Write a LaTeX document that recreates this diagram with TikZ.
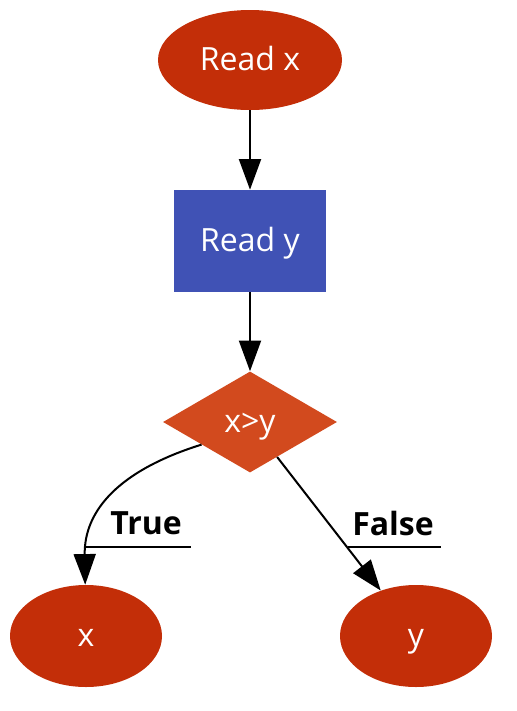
\documentclass[tikz,border=0pt]{standalone}
\usepackage{fontspec}
\setmainfont{Open Sans}
\usepackage{tikz}
\usetikzlibrary{shapes.geometric,arrows.meta,positioning}
\definecolor{rouge}{RGB}{195,46,8}
\definecolor{bleu}{RGB}{64,82,181}
\definecolor{brique}{RGB}{210,74,30}
\begin{document}
\begin{tikzpicture}[x=0.75pt,y=-0.75pt,
  etat/.style={ellipse,fill=rouge,text=white,inner sep=0pt,text height=19pt,text depth=4pt},
  bloc/.style={rectangle,fill=bleu,text=white,minimum width=114pt,minimum height=76.5pt,text height=19pt,text depth=4pt},
  test/.style={diamond,fill=brique,text=white,inner sep=0pt,minimum width=130.5pt,minimum height=75.75pt,text height=19pt,text depth=4pt},
  fleche/.style={-{Triangle[length=23pt,width=16.5pt]},line width=1.5pt},
  lbl/.style={font=\bfseries},
  trait/.style={line width=1.3pt}]
\fontsize{24}{28}\selectfont
\useasboundingbox(0,0)rectangle(517,711);
\node[etat,minimum width=138pt,minimum height=75pt](readx)at(250,60){Read x};
\node[bloc](ready)at(250,241){Read y};
\node[test](cmp)at(250,422){x>y};
\node[etat,minimum width=114pt,minimum height=76.5pt](outx)at(86,636){x};
\node[etat,minimum width=114pt,minimum height=76.5pt](outy)at(416,636){y};
\draw[fleche](readx)--(ready);
\draw[fleche](ready)--(cmp);
\draw[fleche](cmp.205)..controls(120,470)and(84,510)..(outx);
\draw[fleche](cmp)--(outy);
\node[lbl](truelbl)at(146,523){True};
\draw[trait](86,547)--(191,547);
\node[lbl](falselbl)at(393,523){False};
\draw[trait](348,547)--(441,547);
\end{tikzpicture}
\end{document}
